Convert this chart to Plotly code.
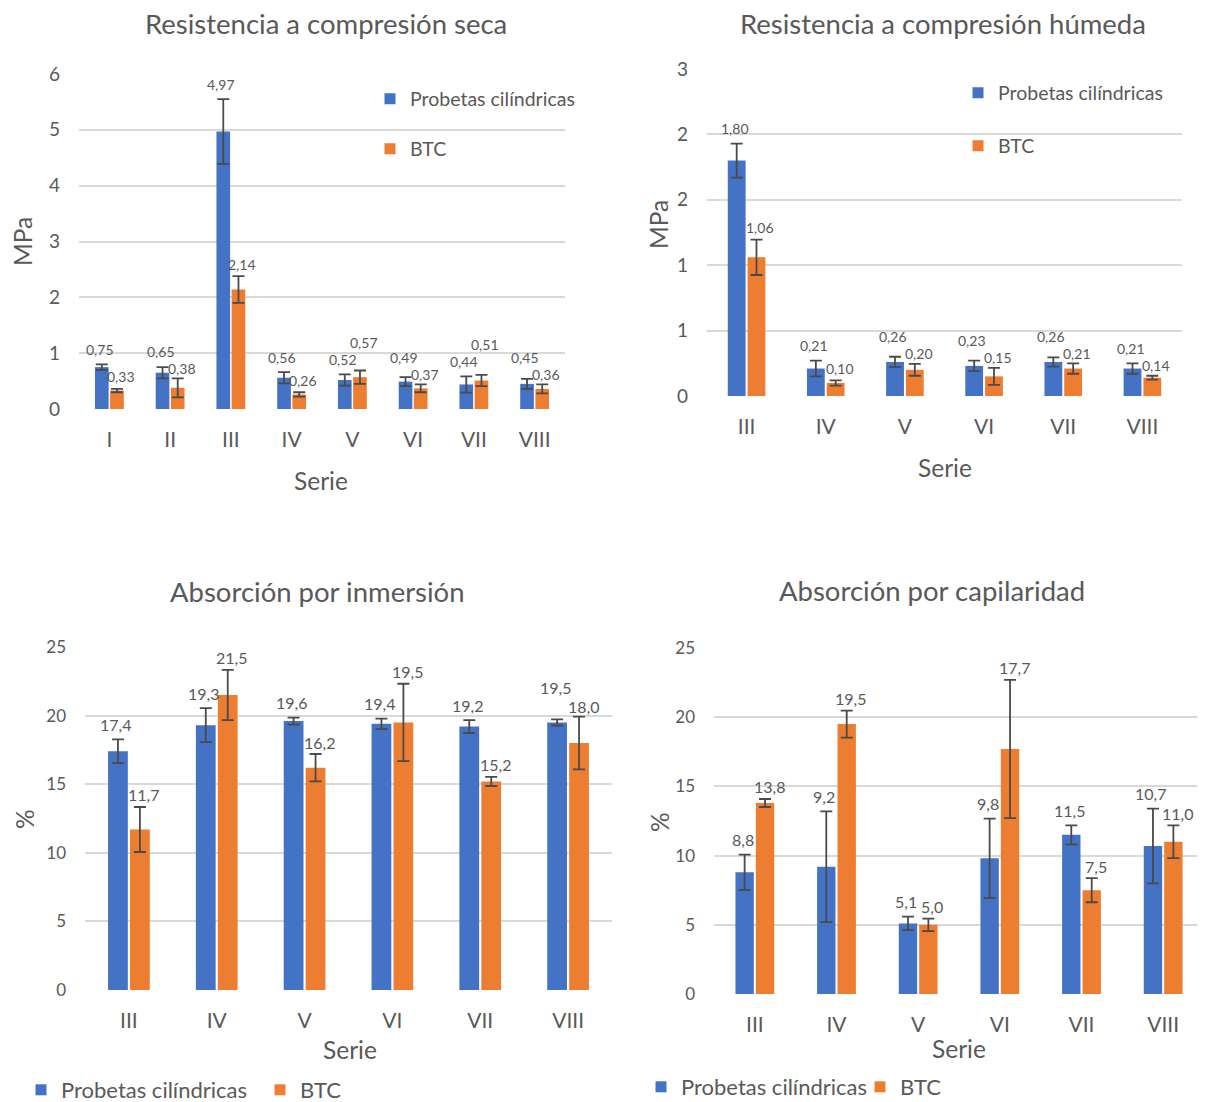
import plotly.graph_objects as go

# ---------------- data ----------------
cats_seca = ["I", "II", "III", "IV", "V", "VI", "VII", "VIII"]
seca_prob = [0.75, 0.65, 4.97, 0.56, 0.52, 0.49, 0.44, 0.45]
seca_prob_err = [0.05, 0.10, 0.58, 0.10, 0.10, 0.08, 0.145, 0.09]
seca_btc = [0.33, 0.38, 2.14, 0.26, 0.57, 0.37, 0.51, 0.36]
seca_btc_err = [0.03, 0.17, 0.24, 0.04, 0.12, 0.07, 0.10, 0.08]

cats_hum = ["III", "IV", "V", "VI", "VII", "VIII"]
hum_prob = [1.80, 0.21, 0.26, 0.23, 0.26, 0.21]
hum_prob_err = [0.13, 0.06, 0.04, 0.04, 0.035, 0.04]
hum_btc = [1.06, 0.10, 0.20, 0.15, 0.21, 0.14]
hum_btc_err = [0.135, 0.02, 0.045, 0.065, 0.04, 0.015]
hum_tickvals = [0, 0.5, 1, 1.5, 2, 2.5]
hum_ticktext = ["0", "1", "1", "2", "2", "3"]

cats_abs = ["III", "IV", "V", "VI", "VII", "VIII"]
inm_prob = [17.4, 19.3, 19.6, 19.4, 19.2, 19.5]
inm_prob_err = [0.86, 1.24, 0.25, 0.38, 0.47, 0.22]
inm_btc = [11.7, 21.5, 16.2, 19.5, 15.2, 18.0]
inm_btc_err = [1.64, 1.83, 1.0, 2.82, 0.33, 1.92]

cap_prob = [8.8, 9.2, 5.1, 9.8, 11.5, 10.7]
cap_prob_err = [1.27, 4.0, 0.49, 2.87, 0.69, 2.7]
cap_btc = [13.8, 19.5, 5.0, 17.7, 7.5, 11.0]
cap_btc_err = [0.29, 0.98, 0.45, 4.99, 0.87, 1.18]

name_prob = "Probetas cilíndricas"
name_btc = "BTC"

# ---------------- style ----------------
W, H = 1205, 1102
OFF = 8  # page body margin of the exported html
FONT = "Lato"
TXT = "#595959"
BLUE = "#4472C4"
ORANGE = "#ED7D31"
ERR = "#4a4a4a"
GRID = "#d9d9d9"


def xp(sx):
    return (sx - OFF) / W


def yp(sy):
    return 1 - (sy - OFF) / H


fig = go.Figure()
annotations = []

panels = [
    dict(s="", cats=cats_seca, p=seca_prob, pe=seca_prob_err, b=seca_btc, be=seca_btc_err,
         dec=2, xd=(79, 565), yd=(74, 409), ymax=6, lab=14, ytf=19,
         leg=[(390, 99), (390, 149)], legsize=19.5),
    dict(s="2", cats=cats_hum, p=hum_prob, pe=hum_prob_err, b=hum_btc, be=hum_btc_err,
         dec=2, xd=(707, 1182), yd=(69, 396), ymax=2.5, lab=14, ytf=19,
         leg=[(978, 93), (978, 146)], legsize=19.5),
    dict(s="3", cats=cats_abs, p=inm_prob, pe=inm_prob_err, b=inm_btc, be=inm_btc_err,
         dec=1, xd=(85, 612), yd=(647, 990), ymax=25, lab=16, ytf=17,
         leg=[(41, 1090), (280, 1090)], legsize=22),
    dict(s="4", cats=cats_abs, p=cap_prob, pe=cap_prob_err, b=cap_btc, be=cap_btc_err,
         dec=1, xd=(714, 1204), yd=(648, 994), ymax=25, lab=16, ytf=17,
         leg=[(661, 1087), (880, 1087)], legsize=22),
]

legends = {}
leg_idx = 0
for pn in panels:
    s = pn["s"]
    xa, ya = "x" + s, "y" + s
    ppu = (pn["yd"][1] - pn["yd"][0]) / pn["ymax"]
    catpx = (pn["xd"][1] - pn["xd"][0]) / len(pn["cats"])
    fs = pn["lab"]
    LH = fs * 1.15

    def fmt(v):
        return f"{v:.{pn['dec']}f}".replace(".", ",")

    def wid(t):
        return fs * sum(0.24 if c == "," else 0.58 for c in t)

    for trace_vals, errs, col in [(pn["p"], pn["pe"], BLUE), (pn["b"], pn["be"], ORANGE)]:
        fig.add_trace(go.Bar(
            x=pn["cats"], y=trace_vals, xaxis=xa, yaxis=ya, marker_color=col,
            marker_line_width=0, showlegend=False,
            error_y=dict(type="data", array=errs, color=ERR, thickness=1.8, width=6),
        ))

    # data labels: placed above error bars, avoiding collisions between the pair
    for i in range(len(pn["cats"])):
        vb, eb, vo, eo = pn["p"][i], pn["pe"][i], pn["b"][i], pn["be"][i]
        tb, to = (vb + eb) * ppu, (vo + eo) * ppu
        cb, co = tb + 15, to + 12
        tbs, tos = fmt(vb), fmt(vo)
        hsep = 0.25 * catpx + 6
        hcoll = hsep < (wid(tbs) + wid(tos)) / 2
        if hcoll and abs(cb - co) < LH + 1:
            if vo > vb:
                co = max(co, cb + LH + 1)
            else:
                co = cb - LH - 1
                if co < to + 10:
                    co = to + 10
                    cb = co + LH + 1
        for xv, yv, shift_y, shift_x, t in [
            (i - 0.125, vb + eb, cb - tb, -2, tbs),
            (i + 0.125, vo + eo, co - to, 4, tos),
        ]:
            annotations.append(dict(
                x=xv, y=yv, xref=xa, yref=ya, yanchor="middle", xanchor="center",
                yshift=shift_y, xshift=shift_x, text=t, showarrow=False,
                font=dict(family=FONT, size=fs, color=TXT),
            ))

    # legend entries (square markers), one legend per entry for exact placement
    for (nm, col), (lx, ly) in zip([(name_prob, BLUE), (name_btc, ORANGE)], pn["leg"]):
        leg_idx += 1
        lname = "legend" if leg_idx == 1 else f"legend{leg_idx}"
        fig.add_trace(go.Scatter(
            x=[None], y=[None], mode="markers", xaxis=xa, yaxis=ya,
            marker=dict(symbol="square", size=11, color=col),
            name=nm, legend=lname, showlegend=True,
        ))
        legends[lname] = dict(
            x=xp(lx - 20), y=yp(ly), xanchor="left", yanchor="middle", orientation="v",
            bgcolor="rgba(0,0,0,0)", borderwidth=0, itemclick=False, itemdoubleclick=False,
            font=dict(family=FONT, size=pn["legsize"], color=TXT),
        )

layout_axes = {}
for pn in panels:
    s = pn["s"]
    layout_axes["xaxis" + s] = dict(
        domain=[xp(pn["xd"][0]), xp(pn["xd"][1])], anchor="y" + s,
        showgrid=False, ticks="", ticklabelstandoff=16, showline=False, zeroline=False,
        tickfont=dict(family=FONT, size=21, color=TXT))
    layout_axes["yaxis" + s] = dict(
        domain=[yp(pn["yd"][1]), yp(pn["yd"][0])], anchor="x" + s,
        showgrid=True, gridcolor=GRID, gridwidth=1.5, ticks="", ticklabelstandoff=18,
        showline=False, zeroline=False,
        tickfont=dict(family=FONT, size=pn["ytf"], color=TXT))

layout_axes["yaxis"].update(range=[0, 6], dtick=1)
layout_axes["yaxis2"].update(range=[0, 2.5], tickvals=hum_tickvals, ticktext=hum_ticktext)
layout_axes["yaxis3"].update(range=[0, 25], dtick=5)
layout_axes["yaxis4"].update(range=[0, 25], dtick=5)

# titles and axis titles
texts = [
    ("Resistencia a compresión seca", 326, 23, 27.5, 0),
    ("Resistencia a compresión húmeda", 943, 23.5, 27.5, 0),
    ("Absorción por inmersión", 318, 591, 27.5, 0),
    ("Absorción por capilaridad", 932, 590, 27.5, 0),
    ("Serie", 321, 480, 24.5, 0),
    ("Serie", 945, 467, 24.5, 0),
    ("Serie", 350, 1049, 24.5, 0),
    ("Serie", 959, 1048, 24.5, 0),
    ("MPa", 22, 242, 24.5, -90),
    ("MPa", 659, 225, 24.5, -90),
    ("%", 24, 819, 24.5, -90),
    ("%", 659, 822, 24.5, -90),
]
for t, x, y, sz, ang in texts:
    annotations.append(dict(
        x=xp(x), y=yp(y), xref="paper", yref="paper", text=t, showarrow=False,
        xanchor="center", yanchor="middle", textangle=ang, borderpad=0,
        font=dict(family=FONT, size=sz, color=TXT),
    ))

fig.update_layout(
    width=W, height=H, margin=dict(l=0, r=0, t=0, b=0, autoexpand=False),
    paper_bgcolor="white", plot_bgcolor="white",
    barmode="group", bargap=0.5, bargroupgap=0.1,
    font=dict(family=FONT, color=TXT),
    annotations=annotations,
    **legends,
    **layout_axes,
)

fig.write_html("out.html")
